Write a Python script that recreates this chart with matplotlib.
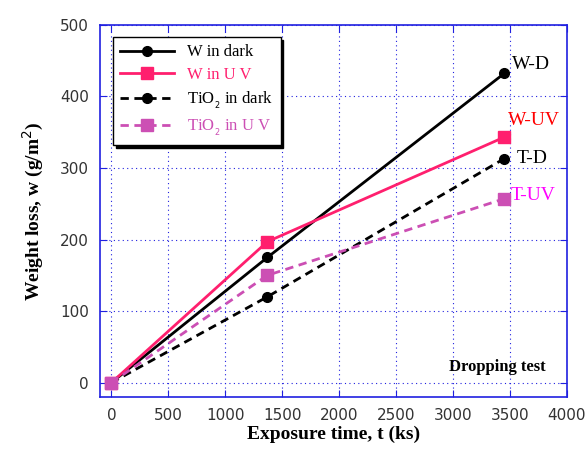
import matplotlib.pyplot as plt

t = [0, 1370, 3450]
w_dark = [0, 175, 432]
w_uv = [0, 197, 343]
tio2_dark = [0, 120, 313]
tio2_uv = [0, 150, 257]

PINK = "#ff1f6e"
MAGENTA = "#cc4fb4"
BLUE = "#2020e0"

fig = plt.figure(figsize=(5.88, 4.59), dpi=100)
ax = fig.add_axes([0.170, 0.135, 0.794, 0.811])

ax.plot(t, w_dark, "-", color="black", lw=2, marker="o", ms=7, label="W in dark")
ax.plot(t, w_uv, "-", color=PINK, lw=2, marker="s", ms=9, label="W in U V")
ax.plot(t, tio2_dark, color="black", lw=2, ls=(0, (3, 2)), marker="o", ms=7,
        label=r"TiO$_{_2}$ in dark")
ax.plot(t, tio2_uv, color=MAGENTA, lw=2, ls=(0, (3, 2)), marker="s", ms=9,
        label=r"TiO$_{_2}$ in U V")

ax.set_xlim(-100, 4000)
ax.set_ylim(-20, 500)
ax.set_xticks(range(0, 4001, 500))
ax.set_yticks(range(0, 501, 100))
ax.grid(True, color=BLUE, ls=(0, (1, 3)), lw=0.8)
for s in ax.spines.values():
    s.set_color(BLUE)
    s.set_linewidth(1.2)
ax.tick_params(direction="in", color=BLUE, top=True, right=True, length=5,
               labelsize=11, labelcolor="#333333", pad=8)

serif = "Liberation Serif"
ax.set_xlabel("Exposure time, t (ks)", family=serif, fontsize=14,
              fontweight="bold", labelpad=2)
ax.set_ylabel(r"Weight loss, w (g/m$^2$)", family=serif, fontsize=14,
              fontweight="bold", labelpad=10)

ax.text(3520, 432, "W-D", family=serif, fontsize=14, color="black", va="bottom")
ax.text(3480, 355, "W-UV", family=serif, fontsize=14, color="red", va="bottom")
ax.text(3560, 313, "T-D", family=serif, fontsize=14, color="black", va="center")
ax.text(3510, 262, "T-UV", family=serif, fontsize=14, color="#ff00ff", va="center")
ax.text(3810, 22, "Dropping test", family=serif, fontsize=12, fontweight="bold",
        ha="right", va="center")

leg = ax.legend(loc="upper left", bbox_to_anchor=(0.01, 0.99), frameon=True,
                fancybox=False, shadow={"color": "black", "alpha": 1},
                edgecolor="black", prop={"family": serif, "size": 12},
                handlelength=3.2, borderpad=0.45, labelspacing=0.4)
for txt, c in zip(leg.get_texts(), ["black", PINK, "black", MAGENTA]):
    txt.set_color(c)

fig.savefig("out.png", dpi=100)
